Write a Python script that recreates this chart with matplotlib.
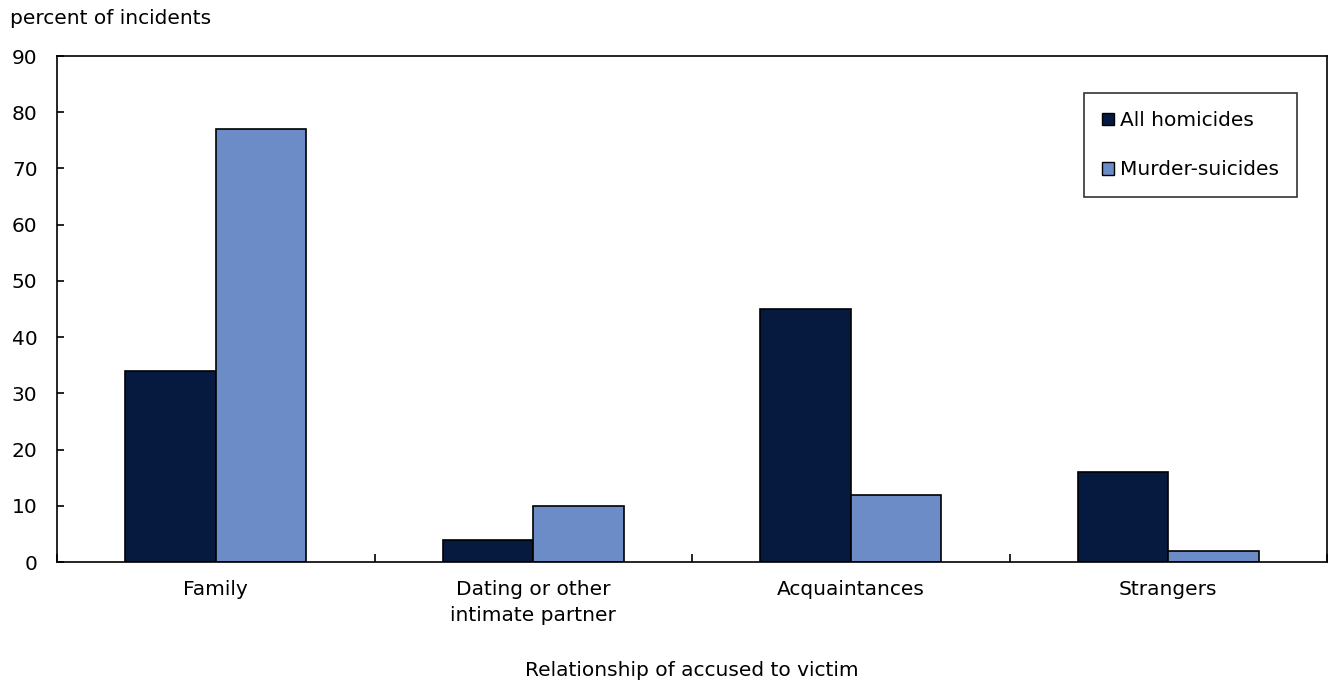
import numpy as np
import matplotlib
matplotlib.use("Agg")
import matplotlib.pyplot as plt
from matplotlib.patches import Patch

# data
categories = ["Family", "Dating or other\nintimate partner", "Acquaintances", "Strangers"]
all_homicides = [34, 4, 45, 16]
murder_suicides = [77, 10, 12, 2]
series_labels = ["All homicides", "Murder-suicides"]
y_ticks = [0, 10, 20, 30, 40, 50, 60, 70, 80, 90]

DARK = "#061a40"
LIGHT = "#6b8cc7"
FS = 14.5

plt.rcParams["font.family"] = "DejaVu Sans"

fig = plt.figure(figsize=(13.3, 6.84), dpi=100)
ax = fig.add_axes([57 / 1330, 1 - 562 / 684, 1270 / 1330, 506 / 684])

x = np.arange(len(categories))
w = 0.285
ax.bar(x - w / 2, all_homicides, w, color=DARK, edgecolor="black", linewidth=1.2)
ax.bar(x + w / 2, murder_suicides, w, color=LIGHT, edgecolor="black", linewidth=1.2)

ax.set_xlim(-0.5, len(categories) - 0.5)
ax.set_ylim(0, 90)
ax.set_yticks(y_ticks)
ax.tick_params(axis="y", direction="in", length=5, width=1.2, pad=14, labelsize=FS)

# category labels centered, ticks at boundaries
ax.set_xticks(x)
ax.set_xticklabels(categories, fontsize=FS, linespacing=1.45)
ax.tick_params(axis="x", length=0, pad=13)
ax.set_xticks(np.arange(len(categories) + 1) - 0.5, minor=True)
ax.tick_params(axis="x", which="minor", direction="in", length=6, width=1.2)

for s in ax.spines.values():
    s.set_linewidth(1.2)

ax.set_xlabel("Relationship of accused to victim", fontsize=FS, labelpad=26)
fig.text(10 / 1330, 1 - 18 / 684, "percent of incidents", fontsize=FS, va="center", ha="left")

handles = [Patch(facecolor=DARK, edgecolor="black"), Patch(facecolor=LIGHT, edgecolor="black")]
leg = ax.legend(handles, series_labels, loc="upper right", bbox_to_anchor=(1240 / 1270, 1 - 37 / 506),
                fontsize=FS, frameon=True, fancybox=False, edgecolor="black", handlelength=0.6,
                handleheight=0.6, handletextpad=0.3, labelspacing=1.5, borderpad=0.9, borderaxespad=0)
leg.get_frame().set_linewidth(1.2)

fig.savefig("out.png", dpi=100)
